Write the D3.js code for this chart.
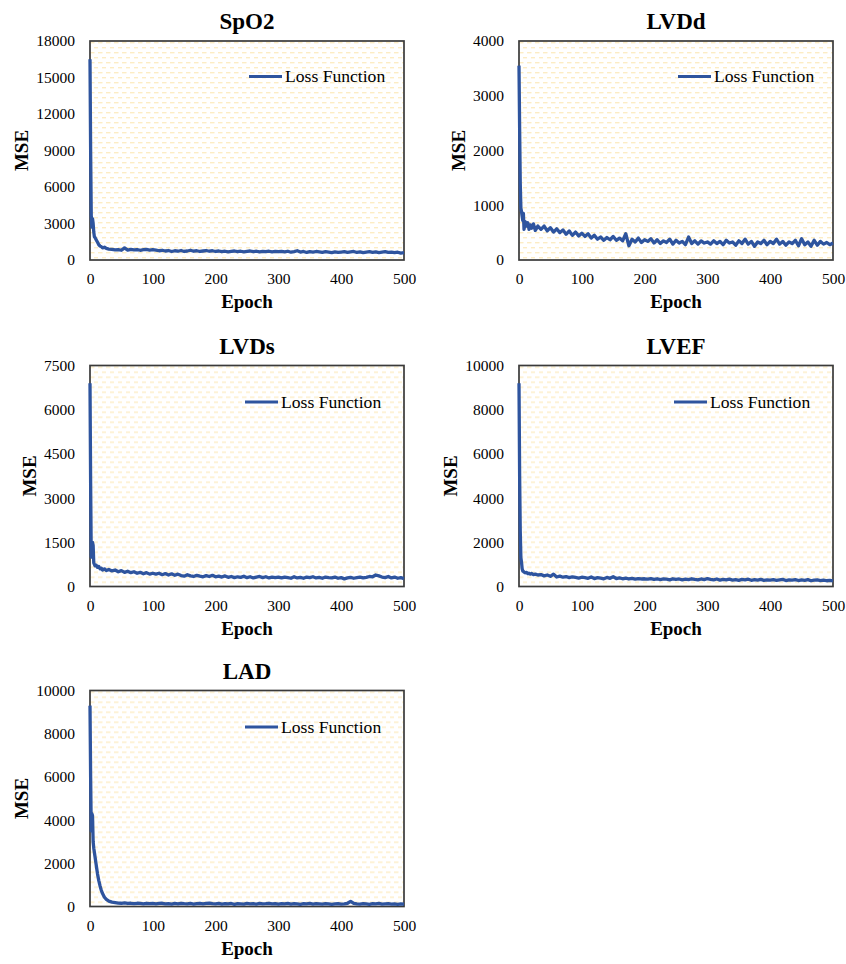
<!DOCTYPE html>
<html>
<head>
<meta charset="utf-8">
<script src="https://cdn.jsdelivr.net/npm/d3@7"></script>
<style>
  body { margin: 0; background: #fff; }
  text { font-family: "Liberation Serif", "Times New Roman", serif; fill: #000; }
  .title { font-size: 23px; font-weight: bold; }
  .axisTitle { font-size: 19px; font-weight: bold; }
  .tick text { font-size: 15.5px; }
  .legendText { font-size: 17.6px; }
</style>
</head>
<body>
<div class="chart"></div>
<script>
// Epoch index of every point
var epochs = [0, 1, 2, 3, 4, 5, 6, 7, 8, 10, 12, 14, 16, 18, 20, 23, 26, 30,
  35, 40, 45, 50, 55, 60, 65, 70, 75, 80, 85, 90, 95, 100,
  105, 110, 115, 120, 125, 130, 135, 140, 145, 150, 155, 160, 165, 170, 175, 180, 185, 190, 195, 200,
  205, 210, 215, 220, 225, 230, 235, 240, 245, 250, 255, 260, 265, 270, 275, 280, 285, 290, 295, 300,
  305, 310, 315, 320, 325, 330, 335, 340, 345, 350, 355, 360, 365, 370, 375, 380, 385, 390, 395, 400,
  405, 410, 415, 420, 425, 430, 435, 440, 445, 450, 455, 460, 465, 470, 475, 480, 485, 490, 495, 500];

var spo2Loss = [16500, 9000, 3600, 2700, 3400, 3000, 2300, 1900, 1850, 1650, 1450, 1250, 1150, 1100, 1000, 1050, 950, 900,
  880, 830, 860, 800, 1000, 820, 870, 830, 860, 800, 850, 880, 820, 860,
  820, 760, 800, 740, 780, 700, 760, 720, 780, 700, 740, 800, 720, 760, 700, 740, 780, 720, 760, 700,
  740, 680, 720, 660, 700, 740, 680, 720, 660, 700, 740, 680, 720, 660, 700, 680, 720, 660, 700, 680,
  700, 660, 720, 640, 690, 760, 650, 700, 620, 680, 640, 700, 660, 620, 680, 640, 600, 660, 620, 650,
  680, 620, 660, 700, 620, 660, 600, 650, 680, 620, 660, 600, 640, 680, 620, 650, 600, 640, 560, 600];

var lvddLoss = [3550, 2400, 1400, 950, 880, 800, 720, 850, 560, 700, 620, 680, 560, 640, 580, 660, 540, 620,
  560, 620, 530, 590, 510, 570, 500, 550, 470, 530, 450, 510, 440, 490,
  430, 480, 400, 450, 380, 420, 360, 410, 370, 430, 360, 400, 350, 480, 260, 380, 330, 400, 320, 370,
  340, 390, 310, 370, 300, 350, 320, 380, 290, 360, 310, 340, 280, 420, 300, 350, 290, 350, 310, 330,
  290, 350, 300, 340, 280, 360, 310, 330, 270, 350, 300, 380, 290, 340, 250, 330, 300, 360, 280, 340,
  300, 380, 290, 340, 270, 330, 300, 360, 260, 390, 280, 330, 250, 360, 270, 340, 290, 320, 280, 310];

var lvdsLoss = [6900, 3500, 1000, 1100, 1500, 1400, 800, 750, 700, 720, 650, 680, 600, 620, 560, 600, 540, 580,
  530, 560, 500, 540, 480, 520, 470, 500, 450, 480, 430, 470, 420, 450,
  420, 450, 400, 440, 390, 430, 380, 420, 370, 350, 400, 360, 340, 380, 350, 330, 370, 340, 380, 330,
  350, 320, 360, 310, 340, 300, 330, 310, 350, 300, 330, 290, 320, 340, 300, 330, 290, 320, 300, 320,
  290, 320, 300, 280, 330, 290, 310, 280, 320, 300, 330, 290, 310, 280, 320, 300, 290, 320, 280, 300,
  260, 290, 310, 280, 300, 320, 290, 310, 340, 330, 390, 360, 320, 300, 340, 290, 320, 280, 300, 270];

var lvefLoss = [9200, 5000, 2500, 1300, 1100, 800, 700, 680, 650, 620, 640, 580, 600, 560, 590, 540, 560, 520,
  540, 480, 520, 460, 560, 430, 470, 420, 450, 400, 440, 410, 380, 420,
  400, 370, 430, 360, 400, 380, 350, 410, 370, 440, 360, 390, 350, 380, 340, 370, 330, 360, 340, 350,
  330, 360, 320, 350, 310, 340, 330, 300, 350, 320, 340, 300, 330, 310, 350, 320, 300, 340, 310, 360,
  320, 300, 340, 290, 320, 300, 330, 290, 310, 280, 320, 300, 330, 280, 310, 290, 320, 280, 300, 290,
  310, 280, 300, 320, 270, 300, 290, 310, 270, 300, 280, 310, 260, 290, 300, 270, 290, 260, 280, 250];

var ladLoss = [9300, 6000, 3500, 4300, 4200, 3000, 2700, 2500, 2300, 1900, 1500, 1200, 950, 750, 600, 430, 330, 250,
  200, 180, 160, 150, 170, 140, 150, 130, 150, 140, 120, 150, 130, 140,
  120, 140, 150, 120, 130, 110, 140, 120, 150, 130, 120, 140, 110, 130, 150, 120, 140, 160, 130, 120,
  140, 110, 130, 120, 140, 100, 130, 120, 110, 140, 120, 130, 110, 140, 120, 130, 150, 120, 130, 110,
  130, 120, 140, 110, 130, 120, 100, 130, 120, 140, 110, 130, 120, 110, 130, 120, 100, 120, 130, 110,
  120, 150, 240, 140, 120, 110, 130, 120, 100, 130, 120, 140, 110, 120, 130, 110, 120, 100, 120, 110];

var titles = ["SpO2", "LVDd", "LVDs", "LVEF", "LAD"];
var seriesList = [spo2Loss, lvddLoss, lvdsLoss, lvefLoss, ladLoss];
var yTicksList = [
  [0, 3000, 6000, 9000, 12000, 15000, 18000],
  [0, 1000, 2000, 3000, 4000],
  [0, 1500, 3000, 4500, 6000, 7500],
  [0, 2000, 4000, 6000, 8000, 10000],
  [0, 2000, 4000, 6000, 8000, 10000]
];
var xTicks = [0, 100, 200, 300, 400, 500];
var legendLabel = "Loss Function";

var svgWidth = 846;
var svgHeight = 964;

// plot boxes of the 2-column grid
var colLeft = [90, 519];
var rowTop = [41, 365.5, 690.5];
var rowHeight = [219, 221, 216];
var plotWidth = 314;
var lineColor = "#2e549e";

var svg = d3.select(".chart")
  .append("svg")
  .attr("width", svgWidth)
  .attr("height", svgHeight);

svg.append("rect")
  .attr("width", svgWidth)
  .attr("height", svgHeight)
  .attr("fill", "#fff");

// dashed yellow fill like the spreadsheet chart
var pattern = svg.append("defs").append("pattern")
  .attr("id", "dashFill")
  .attr("patternUnits", "userSpaceOnUse")
  .attr("width", 8)
  .attr("height", 10);
pattern.append("rect").attr("x", 0).attr("y", 1).attr("width", 4.5).attr("height", 1.4).attr("fill", "#fcecc4");
pattern.append("rect").attr("x", 4).attr("y", 6).attr("width", 4.5).attr("height", 1.4).attr("fill", "#fcecc4");

titles.forEach(function(title, i) {
  var data = seriesList[i];
  var yTicks = yTicksList[i];
  var left = colLeft[i % 2];
  var top = rowTop[Math.floor(i / 2)];
  var height = rowHeight[Math.floor(i / 2)];

  var chartGroup = svg.append("g")
    .attr("transform", `translate(${left}, ${top})`);

  // Step 1: scales
  var xLinearScale = d3.scaleLinear()
    .domain([0, 500])
    .range([0, plotWidth]);

  var yLinearScale = d3.scaleLinear()
    .domain([0, d3.max(yTicks)])
    .range([height, 0]);

  // Step 2: plot background + border
  chartGroup.append("rect")
    .attr("width", plotWidth)
    .attr("height", height)
    .attr("fill", "url(#dashFill)");

  // Step 3: axes (labels only, no tick marks)
  var leftAxis = d3.axisLeft(yLinearScale)
    .tickValues(yTicks)
    .tickSize(0)
    .tickPadding(15)
    .tickFormat(d3.format("d"));

  var bottomAxis = d3.axisBottom(xLinearScale)
    .tickValues(xTicks)
    .tickSize(0)
    .tickPadding(13)
    .tickFormat(d3.format("d"));

  var yAxisG = chartGroup.append("g").call(leftAxis);
  var xAxisG = chartGroup.append("g")
    .attr("transform", `translate(0, ${height})`)
    .call(bottomAxis);
  yAxisG.select(".domain").remove();
  xAxisG.select(".domain").remove();
  chartGroup.selectAll(".tick text")
    .attr("font-family", null)
    .attr("font-size", null);

  chartGroup.append("rect")
    .attr("width", plotWidth)
    .attr("height", height)
    .attr("fill", "none")
    .attr("stroke", "#3a3a3a")
    .attr("stroke-width", 1.7);

  // Step 4: the loss line
  var lineGen = d3.line()
    .x((d, j) => xLinearScale(epochs[j]))
    .y(d => yLinearScale(d));

  chartGroup.append("path")
    .datum(data)
    .attr("d", lineGen)
    .attr("fill", "none")
    .attr("stroke", lineColor)
    .attr("stroke-width", 3.3)
    .attr("stroke-linejoin", "round");

  // Step 5: legend
  var legendX = i < 2 ? 159 : 155;
  var legendY = i < 2 ? 35.5 : 36.5;
  chartGroup.append("line")
    .attr("x1", legendX)
    .attr("x2", legendX + 33)
    .attr("y1", legendY)
    .attr("y2", legendY)
    .attr("stroke", lineColor)
    .attr("stroke-width", 3);

  chartGroup.append("text")
    .attr("class", "legendText")
    .attr("x", legendX + 36)
    .attr("y", legendY)
    .attr("dy", "0.34em")
    .text(legendLabel);

  // Step 6: titles and axis labels
  chartGroup.append("text")
    .attr("class", "title")
    .attr("x", plotWidth / 2)
    .attr("y", -12)
    .attr("text-anchor", "middle")
    .text(title);

  chartGroup.append("text")
    .attr("class", "axisTitle")
    .attr("x", plotWidth / 2)
    .attr("y", height + 48)
    .attr("text-anchor", "middle")
    .text("Epoch");

  var labelChars = String(d3.max(yTicks)).length;
  chartGroup.append("text")
    .attr("class", "axisTitle")
    .attr("transform", "rotate(-90)")
    .attr("x", -height / 2)
    .attr("y", -(labelChars * 7.5 + 24.5))
    .attr("text-anchor", "middle")
    .text("MSE");
});
</script>
</body>
</html>
